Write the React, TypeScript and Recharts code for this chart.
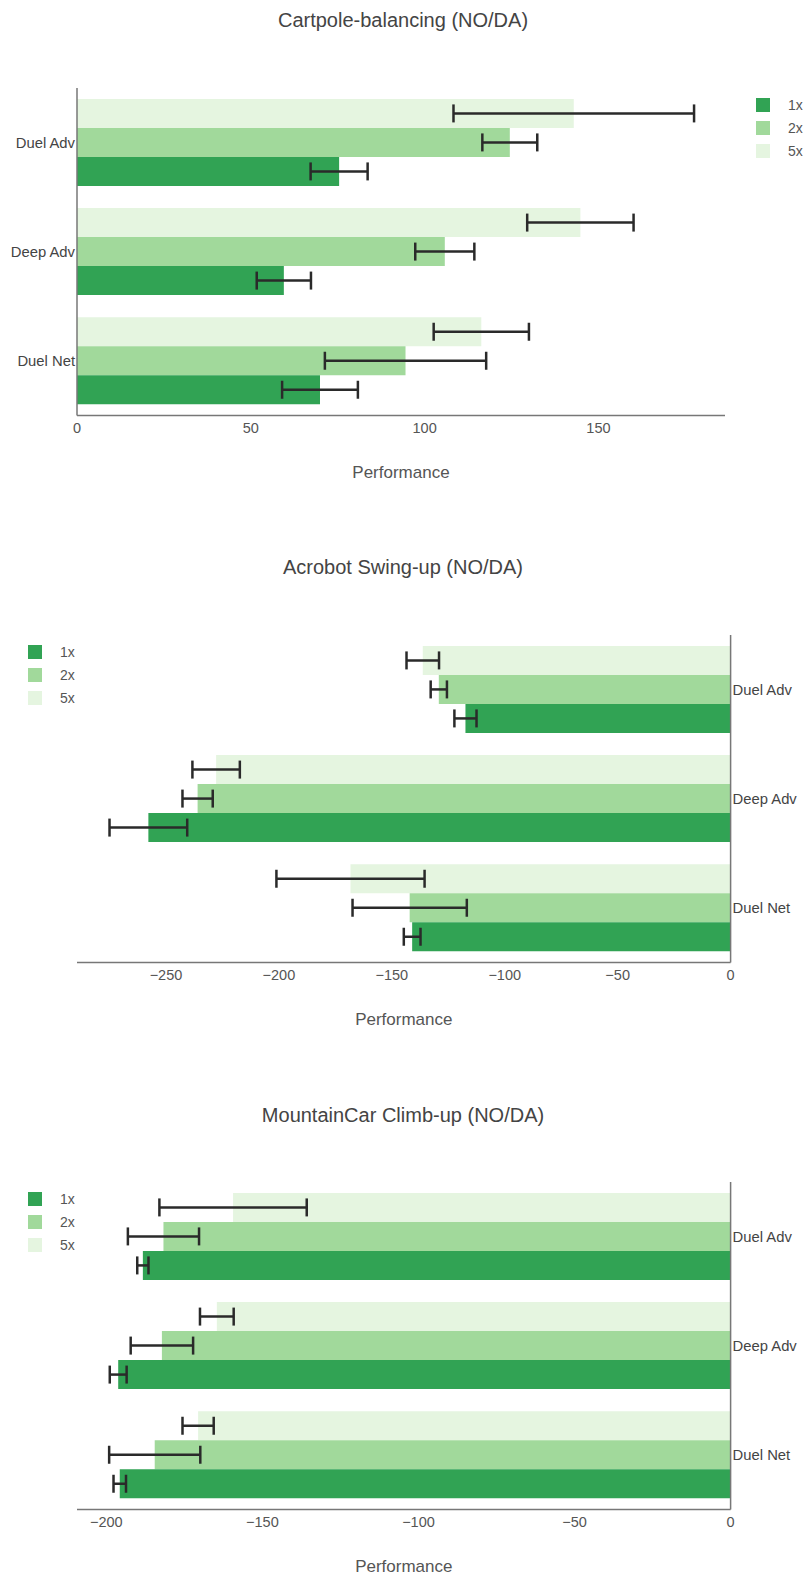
import { Bar, BarChart, ErrorBar, Label, XAxis, YAxis } from "recharts";

const categories = ["Duel Adv", "Deep Adv", "Duel Net"];
const seriesNames = ["1x", "2x", "5x"];
const seriesColors = ["#31a354", "#a1d99b", "#e5f5e0"];

// Cartpole-balancing
const cartpole1x = [75.4, 59.5, 69.9];
const cartpole1xErr = [8.2, 7.8, 10.9];
const cartpole2x = [124.5, 105.8, 94.5];
const cartpole2xErr = [7.9, 8.5, 23.2];
const cartpole5x = [142.9, 144.8, 116.3];
const cartpole5xErr = [34.6, 15.3, 13.7];
const cartpoleTicks = [0, 50, 100, 150];

// Acrobot Swing-up
const acrobot1x = [-117.4, -257.8, -141.0];
const acrobot1xErr = [4.9, 17.2, 3.7];
const acrobot2x = [-129.2, -236.0, -142.1];
const acrobot2xErr = [3.6, 6.7, 25.3];
const acrobot5x = [-136.3, -227.8, -168.3];
const acrobot5xErr = [7.2, 10.5, 32.8];
const acrobotTicks = [-250, -200, -150, -100, -50, 0];

// MountainCar Climb-up
const mountain1x = [-188.3, -196.2, -195.7];
const mountain1xErr = [1.8, 2.7, 2.0];
const mountain2x = [-181.7, -182.2, -184.5];
const mountain2xErr = [11.4, 10.0, 14.6];
const mountain5x = [-159.4, -164.6, -170.6];
const mountain5xErr = [23.6, 5.4, 5.0];
const mountainTicks = [-200, -150, -100, -50, 0];

const FONT = '"Liberation Sans", Arial, sans-serif';

function buildRows(
  v1: number[], e1: number[],
  v2: number[], e2: number[],
  v5: number[], e5: number[],
) {
  return categories.map((name, i) => ({
    name,
    v1: v1[i], e1: e1[i],
    v2: v2[i], e2: e2[i],
    v5: v5[i], e5: e5[i],
  }));
}

const fmt = (v: number) => String(v).replace("-", "\u2212");

function LegendBox({ left, top }: { left: number; top: number }) {
  return (
    <div style={{ position: "absolute", left, top }}>
      {seriesNames.map((s, i) => (
        <div
          key={s}
          style={{ position: "absolute", top: i * 23, left: 0, height: 14, width: 60 }}
        >
          <div
            style={{
              position: "absolute",
              left: 0,
              top: 0,
              width: 14,
              height: 14,
              background: seriesColors[i],
            }}
          />
          <div
            style={{
              position: "absolute",
              left: 32,
              top: -2,
              lineHeight: "18px",
              fontSize: 14,
              color: "#555",
              fontFamily: FONT,
            }}
          >
            {s}
          </div>
        </div>
      ))}
    </div>
  );
}

interface PanelProps {
  top: number;
  title: string;
  rows: ReturnType<typeof buildRows>;
  domain: [number, number];
  ticks: number[];
  side: "left" | "right";
  legendLeft: number;
}

function Panel({ top, title, rows, domain, ticks, side, legendLeft }: PanelProps) {
  const marginTop = 80;
  const plotHeight = 327.5;
  const axisHeight = 86;
  const height = marginTop + plotHeight + axisHeight;
  const errStyle = { stroke: "#2a2a2a", strokeWidth: 2.5, width: 9 };

  return (
    <div style={{ position: "absolute", top, left: 0, width: 806, height }}>
      <div
        style={{
          position: "absolute",
          top: 0.5,
          left: 0,
          width: 806,
          textAlign: "center",
          lineHeight: "24px",
          fontSize: 20,
          color: "#444",
          fontFamily: FONT,
        }}
      >
        {title}
      </div>
      <BarChart
        width={806}
        height={height}
        data={rows}
        layout="vertical"
        barCategoryGap="10%"
        barGap={0}
        margin={{
          top: marginTop,
          bottom: 0,
          left: side === "left" ? 0 : 77,
          right: side === "left" ? 81 : 0,
        }}
        style={{ fontFamily: FONT }}
      >
        <XAxis
          type="number"
          domain={domain}
          ticks={ticks}
          allowDataOverflow
          height={axisHeight}
          tickFormatter={fmt}
          tickLine={false}
          tickSize={0}
          tickMargin={7}
          tick={{ fill: "#555", fontSize: 14.5 }}
          axisLine={{ stroke: "#777", strokeWidth: 1.5 }}
        >
          <Label
            value="Performance"
            position="insideBottom"
            offset={24}
            fill="#555"
            fontSize={17}
          />
        </XAxis>
        <YAxis
          type="category"
          dataKey="name"
          orientation={side}
          width={side === "left" ? 77 : 75.4}
          tickLine={false}
          tickSize={0}
          tickMargin={2}
          tick={{ fill: "#444", fontSize: 14.8 }}
          axisLine={{ stroke: "#777", strokeWidth: 1.5 }}
        />
        <Bar dataKey="v5" fill={seriesColors[2]} isAnimationActive={false}>
          <ErrorBar dataKey="e5" direction="x" isAnimationActive={false} {...errStyle} />
        </Bar>
        <Bar dataKey="v2" fill={seriesColors[1]} isAnimationActive={false}>
          <ErrorBar dataKey="e2" direction="x" isAnimationActive={false} {...errStyle} />
        </Bar>
        <Bar dataKey="v1" fill={seriesColors[0]} isAnimationActive={false}>
          <ErrorBar dataKey="e1" direction="x" isAnimationActive={false} {...errStyle} />
        </Bar>
      </BarChart>
      <LegendBox left={legendLeft} top={90} />
    </div>
  );
}

export default function App() {
  return (
    <div style={{ position: "absolute", top: 0, left: 0, width: 806, height: 1577, background: "#fff" }}>
      <Panel
        top={7.5}
        title="Cartpole-balancing (NO/DA)"
        rows={buildRows(cartpole1x, cartpole1xErr, cartpole2x, cartpole2xErr, cartpole5x, cartpole5xErr)}
        domain={[0, 186.4]}
        ticks={cartpoleTicks}
        side="left"
        legendLeft={756}
      />
      <Panel
        top={554.5}
        title="Acrobot Swing-up (NO/DA)"
        rows={buildRows(acrobot1x, acrobot1xErr, acrobot2x, acrobot2xErr, acrobot5x, acrobot5xErr)}
        domain={[-289.4, 0]}
        ticks={acrobotTicks}
        side="right"
        legendLeft={28}
      />
      <Panel
        top={1102}
        title="MountainCar Climb-up (NO/DA)"
        rows={buildRows(mountain1x, mountain1xErr, mountain2x, mountain2xErr, mountain5x, mountain5xErr)}
        domain={[-209.4, 0]}
        ticks={mountainTicks}
        side="right"
        legendLeft={28}
      />
    </div>
  );
}
